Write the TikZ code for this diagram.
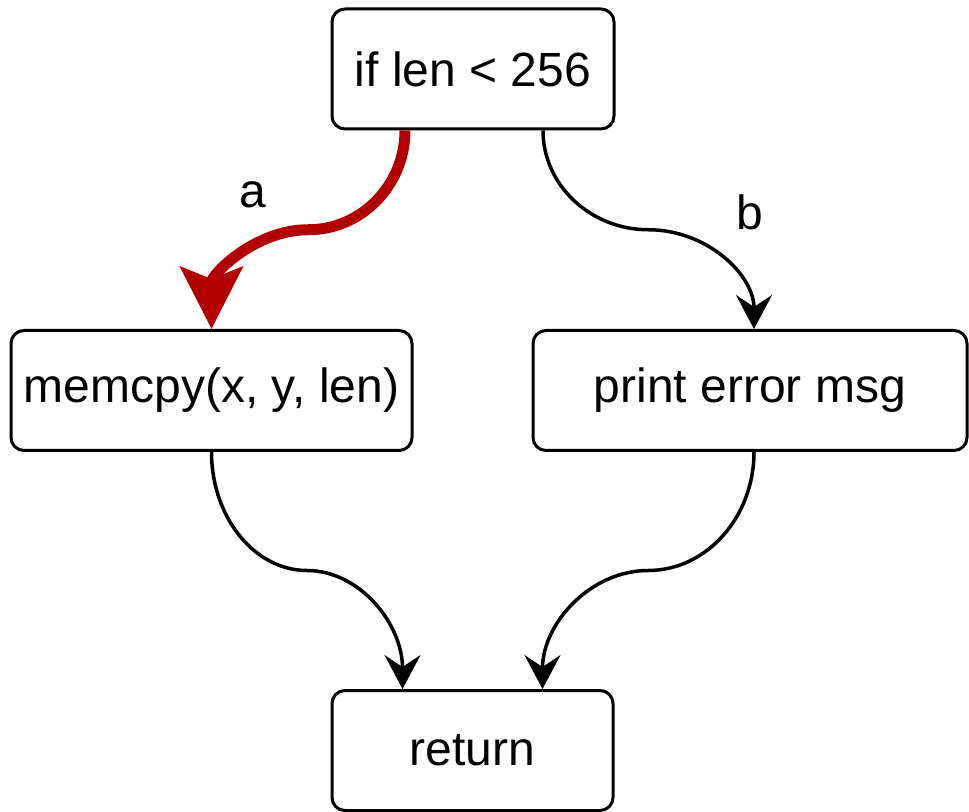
\documentclass[tikz,border=0pt]{standalone}
\usepackage{fontspec}
\setmainfont{Liberation Sans}
\usetikzlibrary{arrows.meta,calc}
\definecolor{takenred}{HTML}{B20000}

\begin{document}
\begin{tikzpicture}[x=0.5pt,y=-0.5pt,
	box/.style={draw,line width=1.5pt,rounded corners=6.5pt,inner sep=0pt,
		minimum height=60pt,font=\fontsize{24}{28}\selectfont},
	lbl/.style={inner sep=0pt,font=\fontsize{24}{28}\selectfont},
	sbend/.style={to path={let \p1=(\tikztostart), \p2=(\tikztotarget) in
		.. controls (\x1,{0.725*\y1+0.275*\y2}) and ({0.775*\x1+0.225*\x2},{0.5*\y1+0.5*\y2})
		.. ({0.5*\x1+0.5*\x2},{0.5*\y1+0.5*\y2})
		.. controls ({0.225*\x1+0.775*\x2},{0.5*\y1+0.5*\y2}) and (\x2,{0.275*\y1+0.725*\y2})
		.. (\p2) \tikztonodes}},
	flow/.style={sbend,draw,line width=1.75pt,-{Stealth[length=17pt,width=18pt,inset=6pt]}},
	taken/.style={sbend,draw=takenred,line width=5.5pt,-{Stealth[length=31pt,width=31pt,inset=6pt]}}]
	\useasboundingbox (0,0) rectangle (969,812);
	\node[box,minimum width=141pt] (cond) at (473,69) {if len < 256};
	\node[box,minimum width=200.5pt] (copy) at (211.5,390.5) {memcpy(x, y, len)};
	\node[box,minimum width=217pt] (err) at (750,390.5) {print error msg};
	\node[box,minimum width=140.5pt] (ret) at (472.5,750.5) {return};
	% branches
	\path[taken] ($(cond.south)+(-68,0)$) to (copy.north);
	\path[flow] ($(cond.south)+(70,0)$) to ($(err.north)+(4,0)$);
	\path[flow] (copy.south) to ($(ret.north)+(-70,0)$);
	\path[flow] ($(err.south)+(4,0)$) to ($(ret.north)+(70,0)$);
	\node[lbl] (la) at (253,195) {a};
	\node[lbl] (lb) at (750,212) {b};
\end{tikzpicture}
\end{document}
